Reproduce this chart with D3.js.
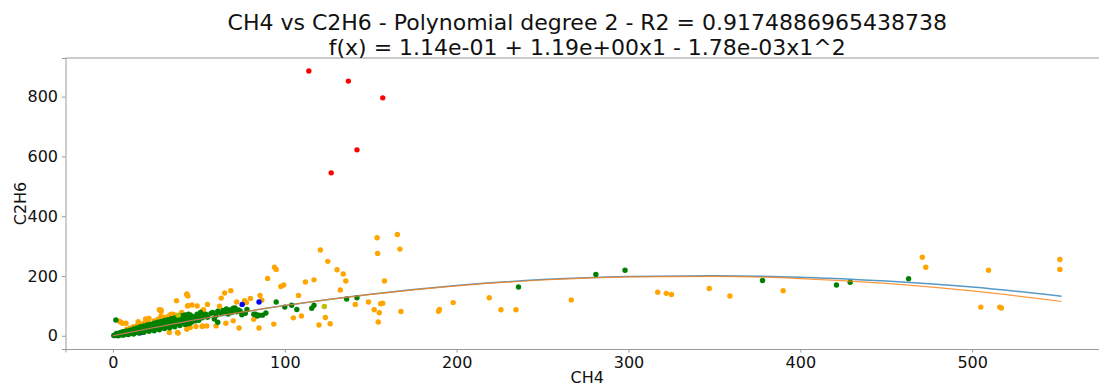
<!DOCTYPE html>
<html>
<head>
<meta charset="utf-8">
<script src="https://cdn.jsdelivr.net/npm/d3@7"></script>
<style>
  body { margin: 0; background: #fff; }
  svg { display: block; overflow: hidden; }
  text { font-family: "DejaVu Sans", sans-serif; fill: #111; }
  .tick line, .domain { stroke: #999; }
</style>
</head>
<body>
<div id="chart"></div>
<script>
// [CH4, C2H6] pairs
const greenPoints = [
  [0.5,1],[1,2],[1.5,0.5],[2,3],[2.5,1.5],[3,4],[3,2],[3.5,6],[4,3],[4,5],[4.5,7],[5,4],[5,8],[5.5,6],[6,9],[6,5],
  [6.5,10],[7,7],[7,12],[7.5,9],[8,6],[8,11],[8.5,13],[9,8],[9,14],[9.5,11],[10,9],[10,15],[10.5,13],[11,17],[11,10],
  [11.5,14],[12,19],[12,12],[12.5,16],[13,11],[13,20],[13.5,17],[14,14],[14,22],[14.5,19],[15,13],[15,24],[15.5,18],
  [16,21],[16,15],[16.5,26],[17,19],[17,23],[17.5,16],[18,28],[18,21],[18.5,25],[19,18],[19,30],[19.5,23],[20,27],
  [20,19],[20.5,32],[21,25],[21,22],[21.5,29],[22,34],[22,20],[22.5,27],[23,31],[23,24],[23.5,36],[24,28],[24,22],
  [24.5,33],[25,38],[25,26],[25.5,30],[26,35],[26,24],[26.5,40],[27,29],[27,33],[27.5,37],[28,27],[28,42],[28.5,31],
  [29,36],[29,44],[29.5,30],[30,39],[30,34],[30.5,46],[31,32],[31,41],[31.5,37],[32,48],[32,30],[32.5,43],[33,36],
  [33,50],[33.5,40],[34,33],[34,45],[34.5,52],[35,38],[35,47],[35.5,42],[36,55],[36,35],[36.5,49],[37,44],[37,58],
  [37.5,39],[38,52],[38,47],[38.5,60],[39,42],[39,55],[39.5,49],[40,62],[40,45],[40.5,57],[41,52],[41,66],[42,48],
  [42,60],[43,55],[43,68],[44,51],[44,63],[45,58],[45,70],[46,54],[47,64],[48,60],[49,72],[50,58],[1.7,53],
  [2,8],[4,10],[5,12],[6,14],[8,16],[10,19],[12,23],[14,26],[16,30],[18,33],[20,36],[22,39],[24,42],[26,45],
  [28,48],[30,51],[32,54],[34,57],[36,60],[38,64],[40,67],[42,70],[3,0],[6,2],[9,4],[12,6],[15,9],[18,12],[21,15],
  [24,17],[27,20],[30,24],[33,27],[36,30],[39,34],[42,38],[45,43],[48,50],[52,60],[46,47],[50,52],[44,40],
  [44,72],[47,60],[50,66],[51,78],[53,70],[54,72],[55,62],[57,75],[58,78],[59,56],[60,68],[61,82],[61,45],[63,74],
  [64,85],[65,80],[66,90],[67,73],[68,86],[69,78],[70,92],[71,93],[72,80],[73,86],[74,83],[75,70],[77,75],[78,88],
  [82,72],[83,72],[84,66],[85,69],[87,69],[89,76],[95,113],[100,96],[104,102],[107,88],[115.7,92],[117,102],
  [136,123],[142,127],[236,163],[281,205],[298,219],[378,185],[421,170],[429,179],[463,191]
];
const orangePoints = [
  [3.7,49],[4.6,45],[5.6,42],[7.6,42],[14.7,47],[19,56],[21,58],[27,87],[28,81],[27.9,65],[32.7,67],[33.7,71],
  [34.7,72],[37,117],[43,137],[43,140],[43.6,133],[46,103],[43.8,101],[49,100],[43.4,100],[52.7,87],[52,83],[62,99],
  [55,105],[63,126],[65,143],[68.6,151],[72,113],[76.6,117],[77.7,111],[80,125],[85.6,135],[86.6,119],[90,192],
  [94,229],[95,222],[97.7,165],[99.4,170],[108,135],[112,180],[117,187],[120.7,287],[125,249],[130.4,221],[134,207],
  [135.5,183],[132.3,153],[158,183],[153.7,328],[165.5,339],[154,275],[167,290],[141,105],[148.7,113],[152,87],
  [155,77],[155.8,107],[157,109],[154.4,46],[167.6,81],[190,88],[189.5,82],[198,111],[219,127],[225.8,87],[234.5,87],
  [266.7,120],[317,146],[322,142],[325,138],[347,158],[359,133],[390,151],[471,263],[473,229],[509.5,219],[505,96],
  [516,96],[517,93],[551,255],[551,222],
  [37.6,11],[32.8,11],[38,9],[43,22],[45,28],[52,31],[43,33],[48.3,31],[52,33],[54.6,33],[60,33],[65.7,42],[70,50],
  [73.4,26],[85,26],[93.6,39],[81.9,55],[105,60],[109.7,66],[119.9,36],[123.6,61],[126.4,40],[28,86],
  [8,22],[10,26],[12,30],[16,38],[18,42],[24,50],[30,62],[36,70],[40,78],[26,55],[20,46],[14,34]
];
const redPoints = [[114,886],[137,852],[157,796],[142,622],[127,545]];
const bluePoints = [[75.2,105],[85,113],[16,10]];
const yellowPoints = [[123,98],[38,69]];

// fitted curves
const curveX = [0, 50, 100, 150, 200, 250, 300, 350, 400, 450, 500, 552];
const blueCurve = [0.1, 55, 101, 139, 168, 188, 198.5, 201, 196, 183, 163, 132];
const orangeCurve = [0.1, 55.2, 101.3, 138.6, 167, 186.5, 197, 198.7, 191.4, 175.2, 150.1, 114.6];

const xTicks = [0, 100, 200, 300, 400, 500];
const yTicks = [0, 200, 400, 600, 800];
const titleLines = [
  "CH4 vs C2H6 - Polynomial degree 2 - R2 = 0.9174886965438738",
  "f(x) = 1.14e-01 + 1.19e+00x1 - 1.78e-03x1^2"
];

const width = 1099, height = 388,
  margin = ({ top: 58, right: -10, bottom: 39, left: 65.5 });

const svg = d3.select("#chart")
  .append("svg")
  .attr("width", width)
  .attr("height", height);

let x = d3.scaleLinear()
  .domain([-27.6, 579.6])
  .range([margin.left, width - margin.right]);

let y = d3.scaleLinear()
  .domain([-44.25, 929.25])
  .range([height - margin.bottom, margin.top]);

// axes
svg.append("g")
  .attr("transform", `translate(0,${height - margin.bottom})`)
  .call(d3.axisBottom(x).tickValues(xTicks).tickSizeOuter(0).tickSize(3.5).tickPadding(4))
  .call(g => g.selectAll(".tick text").attr("font-size", 16));

svg.append("g")
  .attr("transform", `translate(${margin.left},0)`)
  .call(d3.axisLeft(y).tickValues(yTicks).tickSizeOuter(0).tickSize(3.5).tickPadding(4))
  .call(g => g.selectAll(".tick text").attr("font-size", 16));

// top spine
svg.append("line")
  .attr("x1", margin.left).attr("x2", width)
  .attr("y1", margin.top).attr("y2", margin.top)
  .attr("stroke", "#999");

// scatter groups, back to front
const groups = [
  [orangePoints, "orange"],
  [bluePoints, "blue"],
  [greenPoints, "green"],
  [redPoints, "red"],
  [yellowPoints, "#bfbf00"]
];
for (let [pts, color] of groups) {
  svg.append("g")
    .selectAll("circle")
    .data(pts)
    .join("circle")
    .attr("cx", d => x(d[0]))
    .attr("cy", d => y(d[1]))
    .attr("r", 2.7)
    .attr("fill", color);
}

let line = d3.line()
  .x((d, i) => x(curveX[i]))
  .y(d => y(d))
  .curve(d3.curveMonotoneX);

svg.append("path")
  .datum(blueCurve)
  .attr("fill", "none")
  .attr("stroke", "#1f77b4")
  .attr("stroke-opacity", 0.75)
  .attr("stroke-width", 1.5)
  .attr("d", line);

svg.append("path")
  .datum(orangeCurve)
  .attr("fill", "none")
  .attr("stroke", "#ff7f0e")
  .attr("stroke-opacity", 0.8)
  .attr("stroke-width", 1.2)
  .attr("d", line);

// labels
svg.append("text")
  .attr("x", (margin.left + width - margin.right) / 2)
  .attr("y", 383)
  .attr("text-anchor", "middle")
  .attr("font-size", 16)
  .text("CH4");

svg.append("text")
  .attr("transform", `translate(26,${(margin.top + height - margin.bottom) / 2}) rotate(-90)`)
  .attr("text-anchor", "middle")
  .attr("font-size", 16)
  .text("C2H6");

svg.selectAll(".title")
  .data(titleLines)
  .join("text")
  .attr("class", "title")
  .attr("x", (margin.left + width - margin.right) / 2)
  .attr("y", (d, i) => 30 + i * 24.5)
  .attr("text-anchor", "middle")
  .attr("font-size", 22)
  .text(d => d);
</script>
</body>
</html>
